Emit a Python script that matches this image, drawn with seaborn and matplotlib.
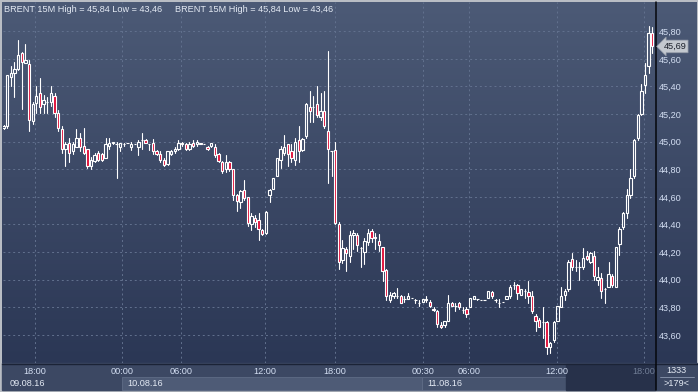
import numpy as np
import pandas as pd
import matplotlib
matplotlib.use("Agg")
import matplotlib.pyplot as plt
import seaborn as sns
from matplotlib.colors import LinearSegmentedColormap
import matplotlib.transforms as mtrans

# ---------------- data (15-minute Brent candles) ----------------
open_ = [45.10,45.11,45.47,45.50,45.53,45.64,45.57,45.56,45.15,45.28,45.35,45.27,45.29,45.29,45.33,45.21,45.09,44.95,44.99,44.93,
         44.96,45.03,44.97,44.95,44.82,44.86,44.92,44.91,44.88,44.97,44.99,44.98,44.96,44.98,44.99,44.96,44.98,44.96,45.01,45.01,
         44.98,44.99,44.93,44.91,44.87,44.84,44.91,44.93,44.95,44.99,44.98,44.95,44.99,44.98,44.99,44.98,44.96,44.97,44.96,44.91,
         44.85,44.80,44.85,44.80,44.61,44.56,44.65,44.60,44.40,44.45,44.43,44.36,44.34,44.61,44.66,44.75,44.87,44.92,44.98,44.93,
         44.87,45.01,44.94,45.04,45.25,45.25,45.27,45.18,45.22,45.08,44.93,44.94,44.40,44.14,44.22,44.17,44.32,44.32,44.23,44.20,
         44.27,44.35,44.30,44.28,44.24,44.07,43.85,43.88,43.88,43.88,43.86,43.86,43.87,43.85,43.83,43.84,43.85,43.84,43.79,43.77,
         43.67,43.67,43.70,43.83,43.81,43.83,43.78,43.79,43.80,43.86,43.86,43.85,43.85,43.87,43.91,43.85,43.83,43.84,43.86,43.88,
         43.96,43.96,43.89,43.92,43.91,43.88,43.74,43.71,43.69,43.69,43.51,43.56,43.70,43.80,43.89,43.93,44.15,44.09,44.09,44.09,
         44.17,44.13,44.17,44.00,44.01,43.93,43.95,44.03,43.95,44.26,44.38,44.48,44.61,44.75,45.03,45.20,45.41,45.55,45.79]
high = [45.12,45.48,45.55,45.58,45.74,45.65,45.71,45.59,45.29,45.40,45.46,45.34,45.32,45.40,45.35,45.23,45.11,45.00,45.03,45.00,
        45.09,45.06,45.10,44.95,44.89,44.92,44.93,44.92,45.03,45.03,45.00,45.00,44.99,44.99,44.99,45.00,44.98,45.01,45.06,45.02,
        44.98,45.02,44.94,44.93,44.88,44.93,44.94,44.96,45.01,45.00,44.99,45.00,45.01,45.01,44.99,44.98,44.97,44.99,44.98,44.92,
        44.86,44.90,44.86,44.80,44.62,44.65,44.72,44.60,44.48,44.47,44.48,44.37,44.50,44.66,44.74,44.88,44.97,45.05,44.98,44.98,
        45.03,45.11,45.03,45.28,45.37,45.33,45.40,45.35,45.37,45.66,44.93,45.00,44.42,44.29,44.24,44.35,44.36,44.34,44.24,44.30,
        44.37,44.37,44.34,44.33,44.24,44.08,43.91,43.91,43.94,43.89,43.88,43.90,43.87,43.86,43.85,43.86,43.88,43.85,43.80,43.78,
        43.69,43.70,43.89,43.84,43.83,43.84,43.80,43.80,43.87,43.88,43.86,43.85,43.85,43.92,43.92,43.86,43.86,43.84,43.88,43.96,
        43.98,43.97,43.93,43.93,43.99,43.92,43.75,43.72,43.80,43.70,43.55,43.70,43.81,43.95,43.93,44.14,44.19,44.14,44.13,44.23,
        44.21,44.20,44.21,44.09,44.05,43.94,44.13,44.04,44.24,44.38,44.49,44.66,44.80,45.02,45.20,45.42,45.57,45.84,45.83]
low = [45.09,45.10,45.40,45.32,45.52,45.24,45.57,45.08,45.13,45.21,45.21,45.21,45.21,45.26,45.18,45.08,44.92,44.82,44.85,44.91,
       44.96,44.93,44.91,44.81,44.80,44.85,44.86,44.86,44.88,44.95,44.98,44.74,44.93,44.97,44.99,44.94,44.98,44.90,44.95,44.99,
       44.94,44.91,44.90,44.85,44.82,44.83,44.90,44.92,44.94,44.97,44.94,44.94,44.96,44.97,44.98,44.98,44.94,44.96,44.89,44.85,
       44.77,44.78,44.79,44.58,44.50,44.52,44.58,44.39,44.36,44.38,44.29,44.32,44.33,44.56,44.66,44.75,44.81,44.90,44.82,44.85,
       44.83,44.85,44.93,45.03,45.14,45.14,45.18,45.16,45.10,44.70,44.75,44.40,44.08,44.12,44.06,44.13,44.22,44.21,44.09,44.11,
       44.25,44.27,44.22,44.21,43.99,43.85,43.84,43.87,43.87,43.83,43.84,43.86,43.87,43.83,43.81,43.84,43.84,43.80,43.77,43.66,
       43.65,43.66,43.70,43.81,43.77,43.79,43.76,43.73,43.80,43.86,43.85,43.85,43.85,43.87,43.87,43.84,43.80,43.84,43.86,43.87,
       43.93,43.86,43.89,43.87,43.83,43.76,43.63,43.66,43.58,43.46,43.47,43.55,43.70,43.80,43.85,43.92,44.07,44.06,44.00,44.08,
       44.14,44.12,44.00,43.96,43.87,43.83,43.95,43.95,43.95,44.18,44.37,44.45,44.59,44.74,45.01,45.19,45.35,45.50,45.64]
close = [45.11,45.48,45.50,45.53,45.63,45.58,45.59,45.16,45.27,45.33,45.25,45.30,45.29,45.35,45.21,45.10,44.95,44.98,44.92,44.98,
         45.03,44.96,44.92,44.82,44.87,44.90,44.87,44.87,44.98,44.99,45.00,44.98,44.99,44.98,44.99,44.98,44.98,45.00,45.01,44.99,
         44.98,44.93,44.91,44.87,44.83,44.93,44.93,44.95,44.99,44.98,44.95,44.98,44.97,45.00,44.98,44.98,44.95,44.99,44.90,44.86,
         44.79,44.85,44.80,44.61,44.57,44.64,44.59,44.41,44.46,44.42,44.37,44.33,44.49,44.65,44.74,44.88,44.95,44.96,44.91,44.88,
         45.00,44.93,45.02,45.27,45.22,45.25,45.19,45.22,45.11,44.95,44.93,44.41,44.13,44.23,44.19,44.32,44.34,44.25,44.23,44.28,
         44.34,44.30,44.31,44.25,44.06,43.88,43.89,43.90,43.88,43.83,43.86,43.88,43.87,43.85,43.83,43.86,43.86,43.81,43.78,43.68,
         43.66,43.70,43.83,43.81,43.81,43.80,43.78,43.75,43.87,43.88,43.86,43.85,43.85,43.92,43.88,43.85,43.83,43.84,43.88,43.95,
         43.96,43.90,43.93,43.92,43.88,43.77,43.70,43.66,43.69,43.51,43.54,43.69,43.81,43.88,43.92,44.13,44.09,44.09,44.09,44.16,
         44.15,44.19,44.03,44.02,43.92,43.93,44.04,43.96,44.24,44.37,44.48,44.61,44.74,45.01,45.19,45.37,45.48,45.79,45.69]

time_tick_pos = [8.6, 32.5, 48.7, 71.7, 90.9, 115.1, 127.7, 151.8, 175.7]
time_tick_labels = ["18:00", "00:00", "06:00", "12:00", "18:00", "00:30", "06:00", "12:00", "18:00"]
price_ticks = [43.60, 43.80, 44.00, 44.20, 44.40, 44.60, 44.80, 45.00, 45.20, 45.40, 45.60, 45.80]
date_labels = ["09.08.16", "10.08.16", "11.08.16"]
title_text = "BRENT 15M High = 45,84 Low = 43,46"

# ---------------- style ----------------
sns.set_theme(style="dark")
plt.rcParams["font.family"] = ["Liberation Sans", "DejaVu Sans"]
FS = 6.6

W, H = 698, 392
fig = plt.figure(figsize=(W / 100, H / 100), dpi=100, facecolor="#b9bdc4")

# background / decoration axes in pixel coordinates
bg = fig.add_axes([0, 0, 1, 1])
bg.set_xlim(0, W)
bg.set_ylim(H, 0)
bg.axis("off")


def grad(x0, x1, y0, y1, ctop, cbot, z=0):
    arr = np.linspace(0, 1, 256).reshape(-1, 1)
    cmap = LinearSegmentedColormap.from_list("g", [ctop, cbot])
    bg.imshow(arr, extent=(x0, x1, y1, y0), cmap=cmap, aspect="auto",
              origin="upper", zorder=z, interpolation="bilinear")


# main plot background + right price panel
grad(2, 655, 2, 363, "#4c5a76", "#2b3755")
grad(655, 697, 2, 363, "#4c5a76", "#2b3755")
# bottom band
bg.add_patch(plt.Rectangle((2, 363), 653, 27, color="#3c4863", zorder=1))
bg.add_patch(plt.Rectangle((122, 377), 300, 13, facecolor="#4e5b76",
                           edgecolor="#5f6c86", lw=0.6, zorder=2))
bg.add_patch(plt.Rectangle((422, 377), 144, 13, facecolor="#46536e",
                           edgecolor="#5f6c86", lw=0.6, zorder=2))
bg.add_patch(plt.Rectangle((566, 364), 89, 26, color="#27314a", zorder=3))
bg.add_patch(plt.Rectangle((655, 363), 42, 27, color="#3c4863", zorder=1))
bg.plot([2, 697], [363.5, 363.5], color="#1b2336", lw=1.0, zorder=4)
bg.plot([655.5, 655.5], [2, 390], color="#05070c", lw=1.1, zorder=4)
bg.plot([660, 694], [377, 377], color="#8d99b0", lw=0.6, zorder=4)

# header texts
bg.text(4, 9, title_text, color="#e4eaf4", fontsize=FS, va="center", ha="left", zorder=5)
bg.text(175, 9, title_text, color="#e4eaf4", fontsize=FS, va="center", ha="left", zorder=5)

# date labels
for xp, lab in zip([10, 127, 427], date_labels):
    bg.text(xp, 383.5, lab, color="#e4eaf4", fontsize=FS, va="center", ha="left", zorder=5)

# bottom-right counters
bg.text(676, 370.5, "1333", color="#e4eaf4", fontsize=FS, va="center", ha="center", zorder=5)
bg.text(676, 383.5, ">179<", color="#e4eaf4", fontsize=FS, va="center", ha="center", zorder=5)

# ---------------- main candle axes ----------------
ax = fig.add_axes([3 / W, (H - 363) / H, 652 / W, 361 / H])
ax.set_facecolor("none")
ax.patch.set_alpha(0)
ax.set_zorder(5)

n = len(open_)
idx = np.arange(n)
o = np.array(open_)
c = np.array(close)
hi = np.array(high)
lo = np.array(low)
top = np.maximum(o, c)
bot = np.minimum(o, c)

# wicks as separate upper/lower segments, drawn by seaborn
rows = []
for i in range(n):
    rows.append((i, "u%d" % i, top[i]))
    rows.append((i, "u%d" % i, hi[i]))
    rows.append((i, "l%d" % i, lo[i]))
    rows.append((i, "l%d" % i, bot[i]))
wick_df = pd.DataFrame(rows, columns=["idx", "seg", "price"])
sns.lineplot(data=wick_df, x="idx", y="price", units="seg", estimator=None,
             sort=False, color="white", lw=0.8, ax=ax, legend=False, zorder=3)

face = ["#e0103a" if cc < oo else "none" for oo, cc in zip(o, c)]
ax.bar(idx, top - bot, bottom=bot, width=0.64, color=face,
       edgecolor="white", linewidth=0.8, zorder=4)

ax.set_xlim(-0.14, 178.74)
ax.set_ylim(43.396, 46.012)
for s in ax.spines.values():
    s.set_visible(False)

ax.grid(True, axis="both", color="#62718e", linestyle=(0, (2, 3)), linewidth=0.7, zorder=1)
ax.set_axisbelow(True)

ax.set_xticks(time_tick_pos)
ax.set_xticklabels(time_tick_labels)
ax.tick_params(axis="x", length=0, pad=3.0, labelsize=FS, labelcolor="#d3def2")
ax.get_xticklabels()[-1].set_color("#707d95")

ax.yaxis.tick_right()
ax.set_yticks(price_ticks)
ax.set_yticklabels([("%.2f" % v).replace(".", ",") for v in price_ticks])
ax.tick_params(axis="y", length=0, pad=2.5, labelsize=FS, labelcolor="#d3def2")
ax.set_xlabel("")
ax.set_ylabel("")

# last price tag
tr = mtrans.blended_transform_factory(ax.transAxes, ax.transData)
ax.text(1.013, c[-1], ("%.2f" % c[-1]).replace(".", ","), transform=tr,
        fontsize=FS, color="#1a1f2a", va="center", ha="left", clip_on=False, zorder=10,
        bbox=dict(boxstyle="larrow,pad=0.2", facecolor="#c3c8cf", edgecolor="#8e96a4", lw=0.5))

fig.savefig("out.png", dpi=100, facecolor=fig.get_facecolor())
